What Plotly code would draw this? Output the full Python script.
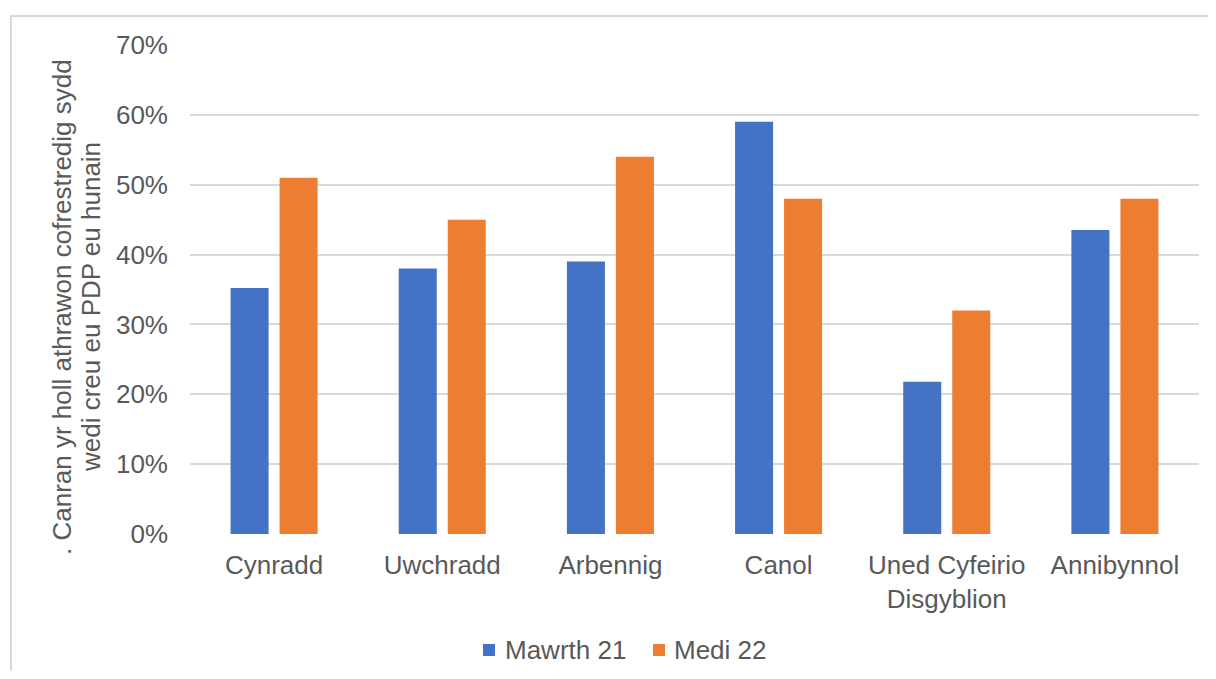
import plotly.graph_objects as go

categories = ["Cynradd", "Uwchradd", "Arbennig", "Canol", "Uned Cyfeirio<br>Disgyblion", "Annibynnol"]
mawrth_21 = [0.352, 0.38, 0.39, 0.59, 0.218, 0.435]
medi_22 = [0.51, 0.45, 0.54, 0.48, 0.32, 0.48]
series_names = ["Mawrth 21", "Medi 22"]
series_colors = ["#4472C4", "#ED7D31"]
tick_vals = [0, 0.1, 0.2, 0.3, 0.4, 0.5, 0.6, 0.7]
tick_text = ["0%", "10%", "20%", "30%", "40%", "50%", "60%", "70%"]
y_title_lines = [". Canran yr holl athrawon cofrestredig sydd", "wedi creu eu PDP eu hunain"]

OFF = 8  # page body margin
W, H = 1200, 663
# plot area in page pixels: x 190..1199, y 45..534
L = 190 - OFF
T = 45 - OFF
R = W - (1199 - OFF)
B = H - (534 - OFF)
pw, ph = W - L - R, H - T - B

def px2x(px):
    return (px - OFF - L) / pw

def px2y(py):
    return (H - B - (py - OFF)) / ph

FONT = "Liberation Sans, Arial, sans-serif"
GREY = "#595959"
FS = 26

fig = go.Figure()
for name, vals, col in zip(series_names, [mawrth_21, medi_22], series_colors):
    fig.add_bar(x=categories, y=vals, name=name, marker_color=col, marker_line_width=0)

fig.update_layout(
    width=W, height=H,
    margin=dict(l=L, r=R, t=T, b=B, pad=0),
    paper_bgcolor="white", plot_bgcolor="white",
    barmode="group", bargap=0.417, bargroupgap=0.224,
    font=dict(family=FONT, size=FS, color=GREY),
    showlegend=False,
    xaxis=dict(showline=False, ticks="", tickfont=dict(size=FS, color=GREY),
               showgrid=False, zeroline=False, ticklabelstandoff=13, automargin=False),
    yaxis=dict(range=[0, 0.7], tickvals=tick_vals, ticktext=tick_text,
               showgrid=True, gridcolor="#D9D9D9", gridwidth=2,
               zeroline=False, showline=False, ticks="", automargin=False,
               tickfont=dict(size=FS, color=GREY), ticklabelstandoff=21),
)

# y-axis title, two lines
for line, cx in zip(y_title_lines, [62, 91]):
    fig.add_annotation(
        text=line, xref="paper", yref="paper", x=px2x(cx), y=px2y(307),
        xanchor="center", yanchor="middle", textangle=-90, showarrow=False,
        font=dict(size=FS, color=GREY, family=FONT),
    )

# legend drawn as squares + text
legend_sq_x = [483, 653]
legend_txt_x = [503, 672]
LEG_Y = 650
for name, col, sx, tx in zip(series_names, series_colors, legend_sq_x, legend_txt_x):
    fig.add_shape(type="rect", xref="paper", yref="paper",
                  x0=px2x(sx), x1=px2x(sx + 12), y0=px2y(LEG_Y - 6), y1=px2y(LEG_Y + 6),
                  fillcolor=col, line_width=0)
    fig.add_annotation(text=name, xref="paper", yref="paper", x=px2x(tx), y=px2y(LEG_Y),
                       xanchor="left", yanchor="middle", showarrow=False,
                       font=dict(size=FS, color=GREY, family=FONT))

# chart border (Excel-like frame)
fig.add_shape(type="line", xref="paper", yref="paper",
              x0=px2x(10), x1=px2x(1216), y0=px2y(16), y1=px2y(16),
              line=dict(color="#D9D9D9", width=2), layer="below")
fig.add_shape(type="line", xref="paper", yref="paper",
              x0=px2x(11), x1=px2x(11), y0=px2y(16), y1=px2y(679),
              line=dict(color="#D9D9D9", width=2), layer="below")

fig.write_html("out.html")
